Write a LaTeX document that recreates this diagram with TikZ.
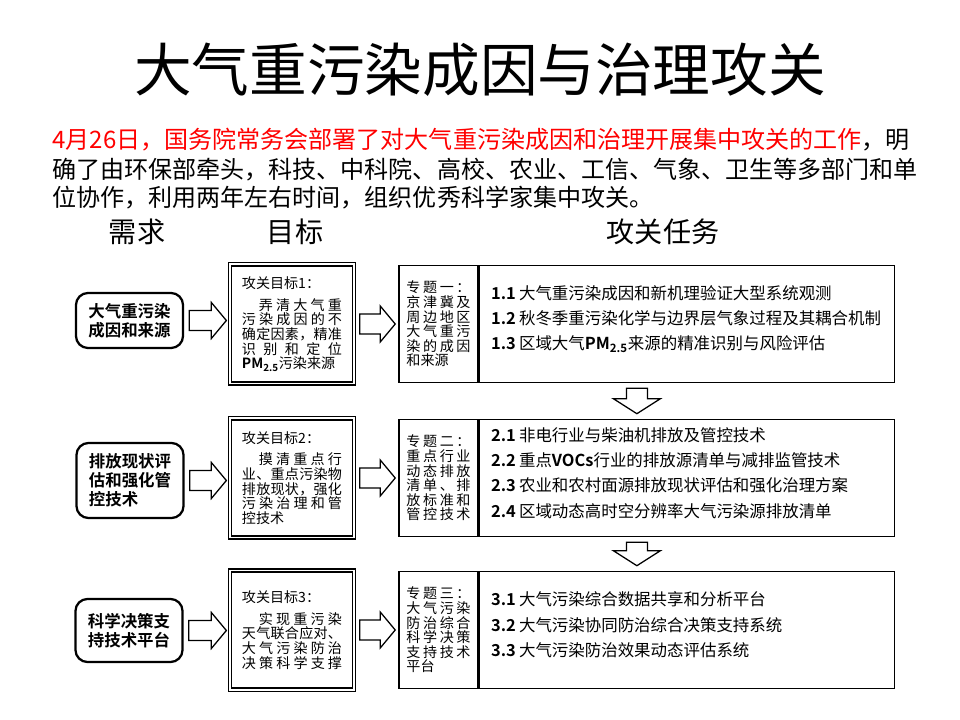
\documentclass[tikz,border=0pt]{standalone}
\usepackage{fontspec}
\setmainfont{Noto Sans CJK SC}[BoldFont={Noto Sans CJK SC Bold}]
\usetikzlibrary{calc,positioning}

% spread the characters of one line over a given width
\makeatletter
\def\sp@read#1#2\@nil{#1\ifx\relax#2\relax\expandafter\@gobble\else\expandafter\@firstofone\fi{\hfil\sp@read#2\@nil}}
\newcommand\spreadline[2]{\makebox[#1][s]{\sp@read#2\@nil}}
\makeatother
\newcommand\jl[1]{\spreadline{2.5cm}{#1}}
\newcommand\jli[1]{\hspace*{0.425cm}\spreadline{2.075cm}{#1}}
\newcommand\tl[1]{\spreadline{1.6cm}{#1}}
\newcommand\tnum[1]{\makebox[0.7cm][l]{\textbf{#1}}}
\newcommand\pmtf{\textbf{PM\textsubscript{2.5}}}

% block arrows between boxes
\newcommand\rarrow[2]{%
  \coordinate (s) at ($(#1.east)+(5,0)$);
  \coordinate (t) at ($(s -| #2.west)+(-3,0)$);
  \draw[blockarrow] ($(s)+(0,-10)$) -- ($(t)+(-15,-10)$) -- ($(t)+(-15,-18)$) -- (t)
    -- ($(t)+(-15,18)$) -- ($(t)+(-15,10)$) -- ($(s)+(0,10)$) -- cycle;}
\newcommand\darrow[3]{%
  \coordinate (m) at ($(#1.south west)!0.48!(#2.south east)$);
  \coordinate (s) at ($(m)+(0,5)$);
  \coordinate (t) at ($(s |- #3.north)+(0,-5)$);
  \draw[blockarrow] ($(s)+(-10.5,0)$) -- ($(t)+(-10.5,-15)$) -- ($(t)+(-23.5,-15)$) -- (t)
    -- ($(t)+(23.5,-15)$) -- ($(t)+(10.5,-15)$) -- ($(s)+(10.5,0)$) -- cycle;}

\tikzset{
  needbox/.style={draw, line width=1.6pt, rounded corners=0.3cm, minimum width=2.675cm, align=left, inner sep=0pt, font=\fontsize{11.7}{13.5}\selectfont\bfseries},
  goalbox/.style={draw, line width=0.9pt, double, double distance=1.4pt, minimum width=3.1cm, minimum height=2.975cm, text width=2.5cm, align=left, inner xsep=0.3cm, font=\fontsize{10}{10.4}\selectfont},
  topicbox/.style={draw, line width=1.1pt, minimum width=1.975cm, minimum height=2.925cm, text width=1.6cm, inner xsep=0.1875cm, align=left, font=\fontsize{10}{10.4}\selectfont},
  taskbox/.style={draw, line width=1.1pt, minimum width=10.375cm, minimum height=2.925cm},
  tasklist/.style={anchor=west, align=left, inner sep=0pt, font=\fontsize{11.7}{18}\selectfont},
  blockarrow/.style={draw, line width=0.9pt, fill=white, line join=miter},
  paraline/.style={anchor=west, inner sep=0pt, font=\fontsize{17.1}{17.1}\selectfont},
  header/.style={inner sep=0pt, font=\fontsize{20}{20}\selectfont},
}

\begin{document}
\begin{tikzpicture}[x=0.025cm, y=-0.025cm]
\useasboundingbox (0,0) rectangle (960,720);
% --- titolo e introduzione ---
\node[font=\fontsize{41}{41}\selectfont] (title) at (480,70) {大气重污染成因与治理攻关};
\node[paraline, text=red] (par1) at (52,140) {4月26日，国务院常务会部署了对大气重污染成因和治理开展集中攻关的工作\textcolor{black}{，明}};
\node[paraline] (par2) at (52,170) {确了由环保部牵头，科技、中科院、高校、农业、工信、气象、卫生等多部门和单};
\node[paraline] (par3) at (52,198) {位协作，利用两年左右时间，组织优秀科学家集中攻关。};
\node[header] (hneed) at (137,232) {需求};
\node[header] (hgoal) at (295,232) {目标};
\node[header] (htask) at (663,232) {攻关任务};

% --- riga 1 ---
\node[needbox, minimum height=1.375cm] (need1) at (129.5,320.5) {大气重污染\\成因和来源};
\node[goalbox] (goal1) at (292,324) {攻关目标1：\\[5pt]\jli{弄清大气重}\\\jl{污染成因的不}\\\jl{确定因素，精准}\\\jl{识别和定位}\\\pmtf 污染来源};
\node[topicbox] (topic1) at (438.5,324) {\tl{专题一：}\\\tl{京津冀及}\\\tl{周边地区}\\\tl{大气重污}\\\tl{染的成因}\\和来源};
\node[taskbox, right=0pt of topic1] (task1) {};
\node[tasklist] (list1) at ($(task1.west)+(12,-5)$) {\tnum{1.1}大气重污染成因和新机理验证大型系统观测\\\tnum{1.2}秋冬季重污染化学与边界层气象过程及其耦合机制\\\tnum{1.3}区域大气\pmtf 来源的精准识别与风险评估};

% --- riga 2 ---
\node[needbox, minimum height=1.875cm] (need2) at (130,480.5) {排放现状评\\估和强化管\\控技术};
\node[goalbox] (goal2) at (292,478) {攻关目标2：\\[5pt]\jli{摸清重点行}\\\jl{业、重点污染物}\\\jl{排放现状，强化}\\\jl{污染治理和管}\\控技术};
\node[topicbox] (topic2) at (438.5,478) {\tl{专题二：}\\\tl{重点行业}\\\tl{动态排放}\\\tl{清单、排}\\\tl{放标准和}\\\tl{管控技术}};
\node[taskbox, right=0pt of topic2] (task2) {};
\node[tasklist] (list2) at ($(task2.west)+(12,-5)$) {\tnum{2.1}非电行业与柴油机排放及管控技术\\\tnum{2.2}重点\textbf{VOCs}行业的排放源清单与减排监管技术\\\tnum{2.3}农业和农村面源排放现状评估和强化治理方案\\\tnum{2.4}区域动态高时空分辨率大气污染源排放清单};

% --- riga 3 ---
\node[needbox, minimum height=1.575cm] (need3) at (129,630.5) {科学决策支\\持技术平台};
\node[goalbox] (goal3) at (292,630) {攻关目标3：\\[5pt]\jli{实现重污染}\\\jl{天气联合应对、}\\\jl{大气污染防治}\\\jl{决策科学支撑}};
\node[topicbox] (topic3) at (438.5,630) {\tl{专题三：}\\\tl{大气污染}\\\tl{防治综合}\\\tl{科学决策}\\\tl{支持技术}\\平台};
\node[taskbox, right=0pt of topic3] (task3) {};
\node[tasklist] (list3) at ($(task3.west)+(12,-5)$) {\tnum{3.1}大气污染综合数据共享和分析平台\\\tnum{3.2}大气污染协同防治综合决策支持系统\\\tnum{3.3}大气污染防治效果动态评估系统};

% --- frecce ---
\rarrow{need1}{goal1} \rarrow{goal1}{topic1}
\rarrow{need2}{goal2} \rarrow{goal2}{topic2}
\rarrow{need3}{goal3} \rarrow{goal3}{topic3}
\darrow{topic1}{task1}{task2}
\darrow{topic2}{task2}{task3}
\end{tikzpicture}
\end{document}
